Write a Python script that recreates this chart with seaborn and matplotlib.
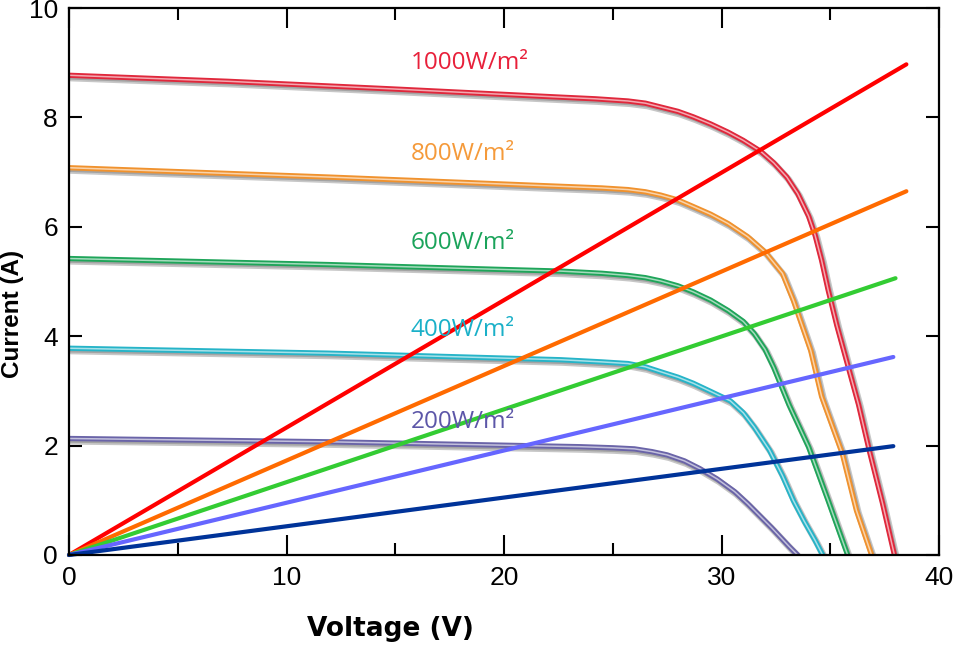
import matplotlib
matplotlib.use("Agg")
import matplotlib.pyplot as plt
import matplotlib.patheffects as pe
from matplotlib.colors import to_rgb
import numpy as np
import pandas as pd
import seaborn as sns

# ---------------- data ----------------
irradiance_labels = ["1000W/m²", "800W/m²", "600W/m²", "400W/m²", "200W/m²"]

v_1000 = [0, 7.3, 14.9, 22.6, 24.2, 25.7, 26.5, 27.2, 28.0, 28.7, 29.5, 30.3, 31.0, 31.8,
          32.4, 33.0, 33.5, 34.0, 34.3, 34.6, 34.9, 35.3, 35.7, 36.3, 36.8, 37.4, 37.95]
i_1000 = [8.77, 8.66, 8.52, 8.37, 8.34, 8.30, 8.26, 8.19, 8.11, 8.01, 7.88, 7.73, 7.58, 7.38,
          7.17, 6.91, 6.61, 6.20, 5.85, 5.39, 4.85, 4.20, 3.62, 2.75, 1.90, 0.95, 0.0]

v_800 = [0, 11.9, 22.6, 24.5, 25.7, 26.5, 27.2, 28.0, 28.7, 29.5, 30.3, 31.2, 32.0, 32.8,
         33.3, 34.1, 34.6, 35.55, 36.2, 36.9]
i_800 = [7.08, 6.91, 6.74, 6.71, 6.68, 6.64, 6.58, 6.49, 6.37, 6.23, 6.06, 5.82, 5.54, 5.15,
         4.66, 3.74, 2.90, 1.86, 0.82, 0.0]

v_600 = [0, 11.9, 22.6, 24.5, 25.7, 26.5, 27.2, 28.0, 28.7, 29.5, 30.3, 31.0, 31.5, 32.0,
         32.4, 33.1, 34.0, 34.9, 35.8]
i_600 = [5.42, 5.31, 5.19, 5.15, 5.11, 5.07, 5.01, 4.92, 4.81, 4.66, 4.47, 4.27, 4.05, 3.76,
         3.43, 2.75, 1.98, 1.00, 0.0]

v_400 = [0, 11.9, 22.6, 24.5, 25.7, 26.5, 27.2, 28.0, 28.7, 29.5, 30.4, 31.0, 31.5, 32.2,
         32.8, 33.3, 33.8, 34.3, 34.65]
i_400 = [3.78, 3.69, 3.57, 3.53, 3.50, 3.44, 3.35, 3.25, 3.14, 2.99, 2.82, 2.60, 2.34, 1.92,
         1.45, 1.00, 0.62, 0.27, 0.0]

v_200 = [0, 11.9, 23.5, 25.0, 26.0, 26.8, 27.5, 28.3, 29.0, 29.8, 30.6, 31.2, 31.8, 32.3,
         32.7, 33.1, 33.5]
i_200 = [2.13, 2.07, 1.98, 1.96, 1.94, 1.89, 1.83, 1.72, 1.58, 1.39, 1.16, 0.94, 0.70, 0.50,
         0.33, 0.16, 0.0]

# load lines from the origin
load_v_start = [0, 0, 0, 0, 0]
load_i_start = [0, 0, 0, 0, 0]
load_v_end = [38.5, 38.5, 38.0, 37.9, 37.9]
load_i_end = [8.97, 6.65, 5.06, 3.62, 1.99]

# label anchor positions (data coords)
label_v = [15.7, 15.7, 15.7, 15.7, 15.7]
label_i = [9.0, 7.34, 5.70, 4.11, 2.43]

x_ticks = [0, 10, 20, 30, 40]
y_ticks = [0, 2, 4, 6, 8, 10]

curve_colors = ["#e0283c", "#f0922e", "#1fa55a", "#26b4c8", "#6a64a8"]
label_colors = ["#e8203a", "#f59a3a", "#1aa35a", "#1ab0c8", "#5c56a8"]
load_colors = ["#ff0000", "#ff6a00", "#33cc33", "#6666ff", "#003399"]

curves_v = [v_1000, v_800, v_600, v_400, v_200]
curves_i = [i_1000, i_800, i_600, i_400, i_200]

# ---------------- figure ----------------
sns.set_style("white")
plt.rcParams["font.family"] = ["Liberation Sans", "DejaVu Sans"]
plt.rcParams["text.color"] = "black"
plt.rcParams["xtick.color"] = "black"
plt.rcParams["ytick.color"] = "black"
plt.rcParams["axes.labelcolor"] = "black"

fig = plt.figure(figsize=(9.6, 6.55), dpi=100)
ax = fig.add_axes([69 / 960, 100 / 655, 870 / 960, 547 / 655])
ax.set_facecolor("white")


def lighten(c, f):
    r, g, b = to_rgb(c)
    return (r + (1 - r) * f, g + (1 - g) * f, b + (1 - b) * f)


for vv, ii, col in zip(curves_v, curves_i, curve_colors):
    df = pd.DataFrame({"V": vv, "I": ii})
    sns.lineplot(data=df, x="V", y="I", ax=ax, color=col, lw=3.8,
                 sort=False, estimator=None)
    ln = ax.lines[-1]
    ln.set_solid_joinstyle("round")
    ln.set_path_effects([
        pe.SimpleLineShadow(offset=(1.4, -1.9), shadow_color="black", alpha=0.22, linewidth=5.0),
        pe.SimpleLineShadow(offset=(1.0, -1.3), shadow_color="black", alpha=0.18, linewidth=3.6),
        pe.Normal(),
    ])
    sns.lineplot(data=df, x="V", y="I", ax=ax, color=lighten(col, 0.6), lw=1.1,
                 sort=False, estimator=None)
    ax.lines[-1].set_solid_joinstyle("round")

for v0, i0, v1, i1, col in zip(load_v_start, load_i_start, load_v_end, load_i_end, load_colors):
    df = pd.DataFrame({"V": [v0, v1], "I": [i0, i1]})
    sns.lineplot(data=df, x="V", y="I", ax=ax, color=col, lw=3.0,
                 sort=False, estimator=None)
    ln = ax.lines[-1]
    ln.set_solid_capstyle("round")
    ln.set_clip_on(False)

for lab, lv, li, col in zip(irradiance_labels, label_v, label_i, label_colors):
    ax.text(lv, li, lab, color=col, fontsize=17.5, ha="left", va="center",
            family=["Open Sans", "DejaVu Sans"])

ax.set_xlim(0, 40)
ax.set_ylim(0, 10)
ax.set_xticks(x_ticks)
ax.set_yticks(y_ticks)
ax.set_xticks([5, 15, 25, 35], minor=True)

ax.tick_params(axis="x", which="major", direction="in", length=14.5, width=1.5,
               top=True, bottom=True, labelsize=19, pad=8, colors="black")
ax.tick_params(axis="x", which="minor", direction="in", length=8.5, width=1.5,
               top=True, bottom=True, colors="black")
ax.tick_params(axis="y", which="major", direction="in", length=9.5, width=1.5,
               left=True, right=True, labelsize=19, pad=8, colors="black")
ax.tick_params(axis="y", which="minor", left=False, right=False)

for sp in ax.spines.values():
    sp.set_visible(True)
    sp.set_linewidth(1.6)
    sp.set_color("black")

ax.set_xlabel("Voltage (V)", fontsize=19, fontweight="bold",
              family=["DejaVu Sans"], color="black")
ax.xaxis.set_label_coords(0.369, -0.112)
ax.set_ylabel("Current (A)", fontsize=17.5, fontweight="bold",
              family=["Liberation Sans", "DejaVu Sans"], color="black")
ax.yaxis.set_label_coords(-0.052, 0.44)

fig.savefig("out.png", dpi=100, facecolor="white")
